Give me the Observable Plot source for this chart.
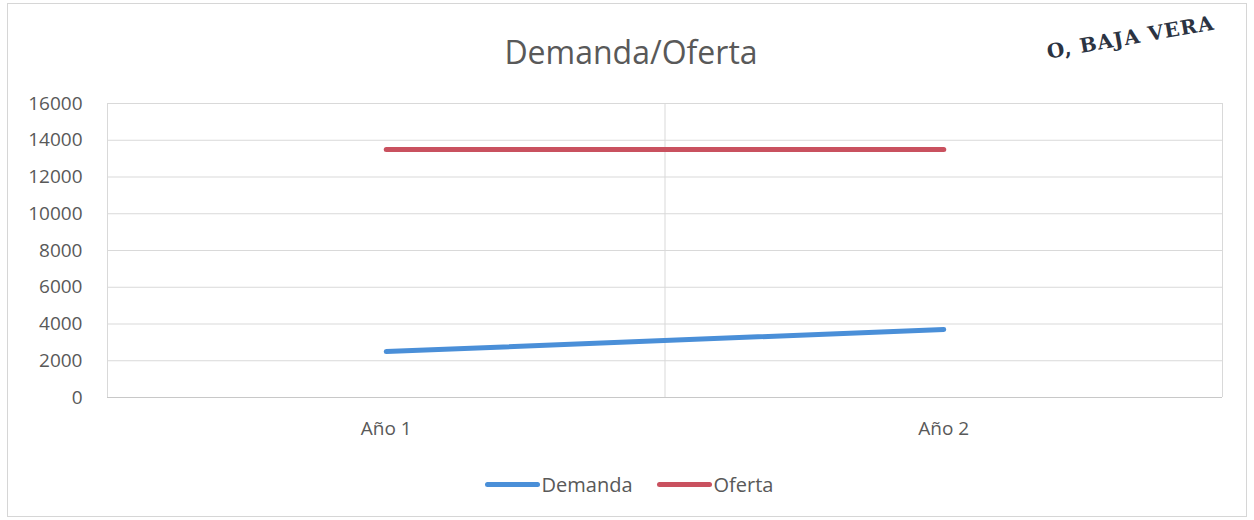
<!DOCTYPE html>
<html>
<head>
<meta charset="utf-8">
<script src="https://cdn.jsdelivr.net/npm/d3@7"></script>
<script src="https://cdn.jsdelivr.net/npm/@observablehq/plot@0.6"></script>
<style>
  body { margin: 0; width: 1254px; height: 520px; position: relative; background: #fff; overflow: hidden; font-family: "Open Sans", sans-serif; }
  #frame { position: absolute; left: 7px; top: 3px; width: 1238px; height: 512px; border: 1px solid #d6d6d6; }
  #title { position: absolute; left: 0; top: 29px; width: 1262px; height: 46px; line-height: 46px; text-align: center; font-size: 32px; color: #595959; }
  #chart { position: absolute; left: 0; top: 80px; }
  #legend { position: absolute; left: 0; top: 470px; width: 1258px; height: 28px; display: flex; justify-content: center; align-items: center; font-size: 20px; color: #595959; }
  .item { display: flex; align-items: center; margin: 0 12px; }
  .swatch { width: 55px; height: 5px; border-radius: 3px; margin-right: 2px; }
  #stamp { position: absolute; left: 1045px; top: 40px; white-space: nowrap; font-family: "DejaVu Serif", serif; font-weight: bold; font-size: 20px; color: #2b3342; transform: rotate(-10deg); transform-origin: left top; letter-spacing: 1px; }
</style>
</head>
<body>
<div id="frame"></div>
<div id="stamp">O, BAJA VERA</div>
<div id="title"></div>
<div id="chart"></div>
<div id="legend"></div>
<script>
const title = "Demanda/Oferta";
const categories = ["Año 1", "Año 2"];
const seriesNames = ["Demanda", "Oferta"];
const demanda = [2500, 3700];
const oferta = [13500, 13500];
const seriesColors = ["#4a8fd8", "#c9515f"];
const yTicks = [0, 2000, 4000, 6000, 8000, 10000, 12000, 14000, 16000];

document.getElementById("title").textContent = title;

const rows = [];
categories.forEach((c, i) => {
  rows.push({x: i + 1, cat: c, series: seriesNames[0], value: demanda[i]});
  rows.push({x: i + 1, cat: c, series: seriesNames[1], value: oferta[i]});
});
const boundaries = categories.map((c, i) => i + 0.5).concat([categories.length + 0.5]);

const chart = Plot.plot({
  width: 1254,
  height: 375,
  marginLeft: 107,
  marginRight: 32,
  marginTop: 23,
  marginBottom: 58,
  style: { fontFamily: "'Open Sans', sans-serif", fontSize: "19px", color: "#595959", background: "transparent" },
  x: { type: "linear", domain: [0.5, categories.length + 0.5], ticks: categories.map((c, i) => i + 1), tickFormat: d => categories[d - 1], tickSize: 0, tickPadding: 24, label: null },
  y: { domain: [0, 16000], ticks: yTicks, tickFormat: d => String(d), tickSize: 0, tickPadding: 25, label: null },
  color: { domain: seriesNames, range: seriesColors },
  marks: [
    Plot.gridY(yTicks, { stroke: "#d9d9d9", strokeOpacity: 1 }),
    Plot.ruleX(boundaries, { stroke: "#d9d9d9", strokeOpacity: 1 }),
    Plot.ruleY([0], { stroke: "#c8c8c8" }),
    Plot.line(rows, { x: "x", y: "value", z: "series", stroke: "series", strokeWidth: 5, strokeLinecap: "round" })
  ]
});
document.getElementById("chart").appendChild(chart);

const legend = document.getElementById("legend");
seriesNames.forEach((name, i) => {
  const item = document.createElement("div");
  item.className = "item";
  const sw = document.createElement("div");
  sw.className = "swatch";
  sw.style.background = seriesColors[i];
  const label = document.createElement("span");
  label.textContent = name;
  item.appendChild(sw);
  item.appendChild(label);
  legend.appendChild(item);
});
</script>
</body>
</html>
